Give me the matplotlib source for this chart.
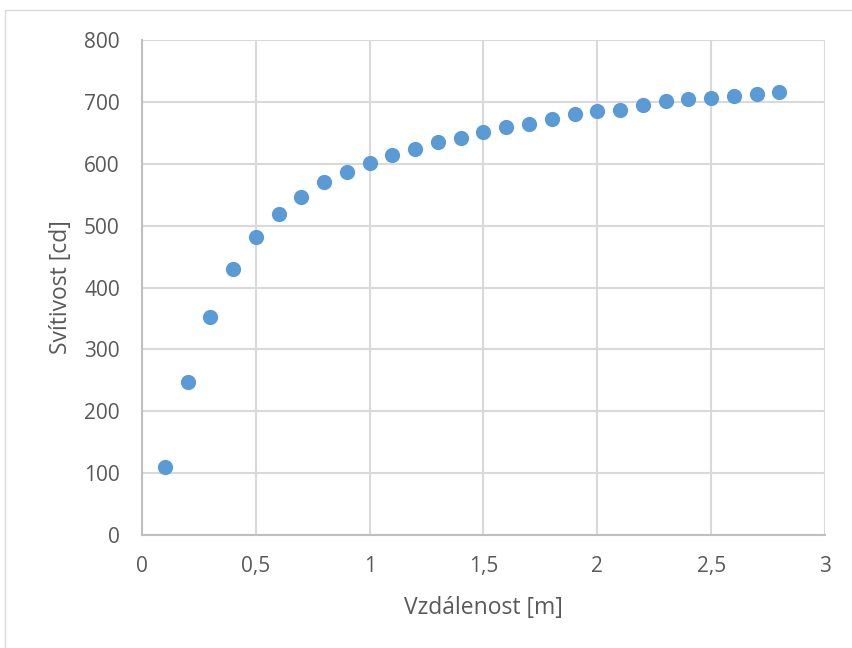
import numpy as np
import matplotlib.pyplot as plt
from matplotlib.patches import Rectangle

plt.rcParams["font.family"] = ["Open Sans", "DejaVu Sans"]

# data
vzdalenost = [0.1, 0.2, 0.3, 0.4, 0.5, 0.6, 0.7, 0.8, 0.9, 1.0,
              1.1, 1.2, 1.3, 1.4, 1.5, 1.6, 1.7, 1.8, 1.9, 2.0,
              2.1, 2.2, 2.3, 2.4, 2.5, 2.6, 2.7, 2.8]
svitivost = [110, 248, 353, 430, 482, 519, 547, 570, 587, 602,
             614, 624, 635, 642, 652, 659, 665, 673, 680, 685,
             687, 695, 701, 704, 706, 709, 713, 716]

x_ticks = [0, 0.5, 1, 1.5, 2, 2.5, 3]
x_ticklabels = ["0", "0,5", "1", "1,5", "2", "2,5", "3"]
y_ticks = [0, 100, 200, 300, 400, 500, 600, 700, 800]

text_col = "#595959"
grid_col = "#D9D9D9"

fig = plt.figure(figsize=(8.52, 6.48), dpi=100)
# light frame of the chart area
fig.patches.append(Rectangle((5 / 852, -0.1), 1.2, 1 - 10 / 648 + 0.1,
                             transform=fig.transFigure, fill=False,
                             edgecolor="#D9D9D9", linewidth=1))
ax = fig.add_axes([142 / 852, 1 - 535 / 648, 683 / 852, 495 / 648])

ax.scatter(vzdalenost, svitivost, s=120, color="#5B9BD5", zorder=3,
           linewidths=0)

ax.set_xlim(0, 3)
ax.set_ylim(0, 800)
ax.set_xticks(x_ticks)
ax.set_xticklabels(x_ticklabels)
ax.set_yticks(y_ticks)
ax.grid(True, color=grid_col, linewidth=1.5)
ax.set_axisbelow(True)
ax.tick_params(length=0, labelsize=15, colors=text_col)
ax.tick_params(axis="x", pad=15)
ax.tick_params(axis="y", pad=16)
for side in ["top", "right"]:
    ax.spines[side].set_visible(False)
for side in ["left", "bottom"]:
    ax.spines[side].set_color("#BFBFBF")
    ax.spines[side].set_linewidth(1.5)

ax.set_xlabel("Vzdálenost [m]", fontsize=16.5, color=text_col, labelpad=14)
ax.set_ylabel("Svítivost [cd]", fontsize=16.5, color=text_col, labelpad=8)

plt.savefig("out.png", dpi=100)
